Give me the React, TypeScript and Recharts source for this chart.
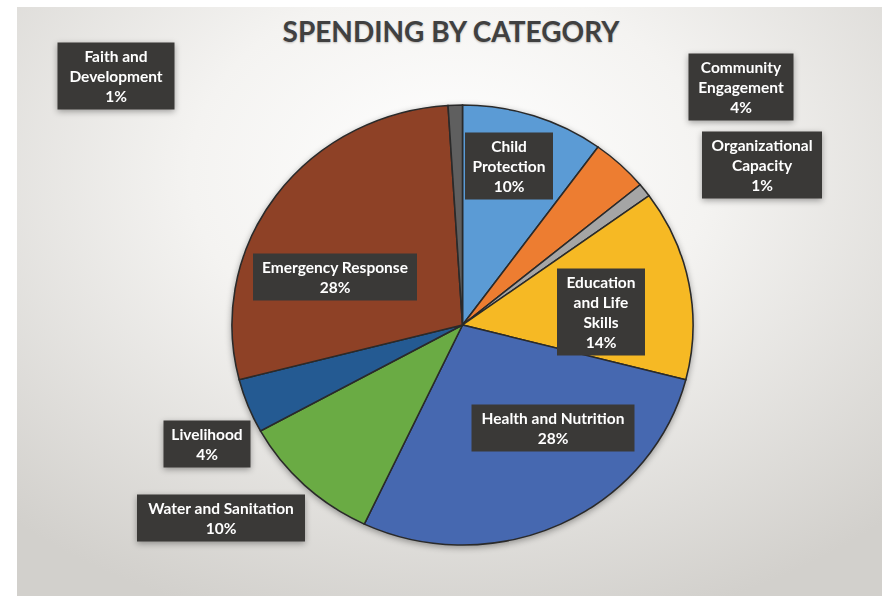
import { PieChart, Pie, Cell } from "recharts"

const categories = [
  "Child Protection",
  "Community Engagement",
  "Organizational Capacity",
  "Education and Life Skills",
  "Health and Nutrition",
  "Water and Sanitation",
  "Livelihood",
  "Emergency Response",
  "Faith and Development",
]
const spending = [10, 4, 1, 14, 28, 10, 4, 28, 1]
const labelLines = [
  ["Child", "Protection"],
  ["Community", "Engagement"],
  ["Organizational", "Capacity"],
  ["Education", "and Life", "Skills"],
  ["Health and Nutrition"],
  ["Water and Sanitation"],
  ["Livelihood"],
  ["Emergency Response"],
  ["Faith and", "Development"],
]

const colors = ["#5b9bd5", "#ed7d31", "#a5a5a5", "#f6b924", "#4668b0", "#6aab44", "#245a92", "#8e4126", "#5f5f5f"]

// where Excel left each data label (box centre on the page, box width)
const labelBoxes = [
  { x: 509, y: 166, w: 88 },
  { x: 741, y: 87, w: 105 },
  { x: 762, y: 165, w: 120 },
  { x: 601, y: 312, w: 88 },
  { x: 553, y: 428, w: 163 },
  { x: 221, y: 518, w: 168 },
  { x: 207, y: 444, w: 87 },
  { x: 335, y: 277, w: 164 },
  { x: 116, y: 76, w: 117 },
]

const data = categories.map((name, i) => ({ name, value: spending[i] }))

const CX = 462.5
const CY = 325
const R = 220
const SX = 1.048 // the picture's pie is a little wider than tall
const LINE = 20

function renderLabel(props: any) {
  const { index, percent } = props
  const box = labelBoxes[index]
  const lines = [...labelLines[index], `${Math.round(percent * 100)}%`]
  const h = lines.length * LINE + 7
  const x = CX + (box.x - CX) / SX
  return (
    <g transform={`translate(${x},${box.y}) scale(${1 / SX},1)`}>
      <rect x={-box.w / 2} y={-h / 2} width={box.w} height={h} fill="#3a3937" />
      <text
        textAnchor="middle"
        fill="#ffffff"
        fontFamily="Lato, 'Open Sans', sans-serif"
        fontWeight={700}
        fontSize={15.5}
      >
        {lines.map((l, i) => (
          <tspan key={i} x={0} y={-h / 2 + 19 + i * LINE}>
            {l}
          </tspan>
        ))}
      </text>
    </g>
  )
}

export default function App() {
  return (
    <div style={{ position: "absolute", left: 0, top: 0, width: 882, height: 596, background: "#ffffff", overflow: "hidden" }}>
      <div
        style={{
          position: "absolute",
          left: 17,
          top: 7,
          width: 865,
          height: 589,
          background: "radial-gradient(ellipse 75% 80% at 50% 28%, #ffffff 0%, #f4f3f1 40%, #d2d0cc 100%)",
        }}
      />
      <div
        style={{
          position: "absolute",
          left: 0,
          top: 14,
          width: 902,
          textAlign: "center",
          fontFamily: "Lato, sans-serif",
          fontWeight: 700,
          fontSize: 28,
          color: "#404040",
          textShadow: "0 1px 2px rgba(0,0,0,0.25)",
        }}
      >
        SPENDING BY CATEGORY
      </div>
      <div
        style={{
          position: "absolute",
          left: 0,
          top: 0,
          width: 882,
          height: 596,
          transform: `scaleX(${SX})`,
          transformOrigin: `${CX}px 0px`,
          filter: "drop-shadow(0px 2px 3px rgba(0,0,0,0.35))",
        }}
      >
        <PieChart width={882} height={596} margin={{ top: 0, right: 0, bottom: 0, left: 0 }}>
          <Pie
            data={data}
            dataKey="value"
            nameKey="name"
            cx={CX}
            cy={CY}
            outerRadius={R}
            startAngle={90}
            endAngle={-270}
            stroke="#2a2a2a"
            strokeWidth={1.5}
            label={renderLabel}
            labelLine={false}
            isAnimationActive={false}
          >
            {data.map((d, i) => (
              <Cell key={d.name} fill={colors[i]} />
            ))}
          </Pie>
        </PieChart>
      </div>
    </div>
  )
}
